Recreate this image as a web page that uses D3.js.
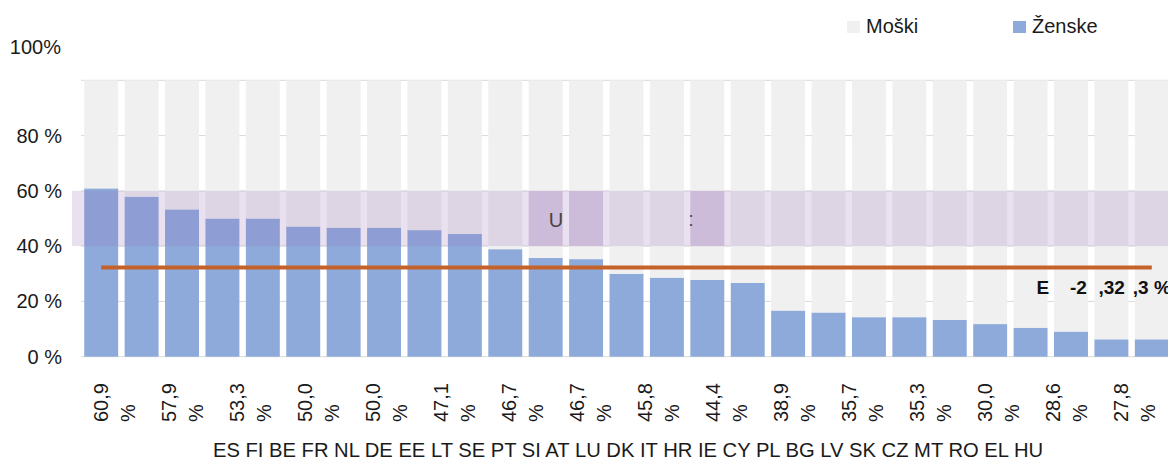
<!DOCTYPE html>
<html>
<head>
<meta charset="utf-8">
<script src="https://cdn.jsdelivr.net/npm/d3@7"></script>
<style>
  body { margin: 0; background: #fff; }
  svg { display: block; font-family: "Liberation Sans", Arial, sans-serif; }
</style>
</head>
<body>
<svg id="chart" width="1168" height="460"></svg>
<script>
// data
const countries = ["ES","FI","BE","FR","NL","DE","EE","LT","SE","PT","SI","AT","LU","DK","IT","HR","IE","CY","PL","BG","LV","SK","CZ","MT","RO","EL","HU"];
const women = [60.9, 57.9, 53.3, 50.0, 50.0, 47.1, 46.7, 46.7, 45.8, 44.4, 38.9, 35.7, 35.3, 30.0, 28.6, 27.8, 26.7, 16.7, 16.0, 14.3, 14.3, 13.3, 11.8, 10.5, 9.1, 6.3, 6.3];
const men = [39.1, 42.1, 46.7, 50.0, 50.0, 52.9, 53.3, 53.3, 54.2, 55.6, 61.1, 64.3, 64.7, 70.0, 71.4, 72.2, 73.3, 83.3, 84.0, 85.7, 85.7, 86.7, 88.2, 89.5, 90.9, 93.7, 93.7];
const valueLabels = ["60,9 %","57,9 %","53,3 %","50,0 %","50,0 %","47,1 %","46,7 %","46,7 %","45,8 %","44,4 %","38,9 %","35,7 %","35,3 %","30,0 %","28,6 %","27,8 %"];
const yTicks = [0, 20, 40, 60, 80];
const band = [40, 60];
const highlighted = ["AT","LU","HR"];
const euAverage = 32.3;
const euPieces = [["MT","E"],["RO","-2"],["EL",",32"],["HU",",3 %"]];
const seriesNames = ["Moški","Ženske"];

const svg = d3.select("#chart");
const colWomen = "#8eaadb", colMen = "#f0f0f0";

const x = d3.scaleBand().domain(countries).range([81, 1172]).paddingInner(0.16).paddingOuter(0.08);
const y = d3.scaleLinear().domain([0, 100]).range([356.7, 80.3]);

// gridlines
svg.append("g").selectAll("line")
  .data(yTicks.concat([100]))
  .join("line")
  .attr("x1", 81).attr("x2", 1168)
  .attr("y1", d => y(d)).attr("y2", d => y(d))
  .attr("stroke", "#d9d9d9").attr("stroke-width", 1);

// y tick labels
svg.append("g").selectAll("text")
  .data(yTicks)
  .join("text")
  .attr("x", 62).attr("y", d => y(d) + 7)
  .attr("text-anchor", "end")
  .attr("font-size", 20).attr("fill", "#1a1a1a")
  .text(d => d + " %");
svg.append("text")
  .attr("x", 61).attr("y", 54)
  .attr("text-anchor", "end")
  .attr("font-size", 20).attr("fill", "#1a1a1a")
  .text("100%");

// stacked bars
const rows = countries.map((c, i) => ({ c, women: women[i], men: men[i] }));
const stack = d3.stack().keys(["women", "men"])(rows);
svg.append("g").selectAll("g")
  .data(stack)
  .join("g")
  .attr("fill", s => s.key === "women" ? colWomen : colMen)
  .selectAll("rect")
  .data(s => s)
  .join("rect")
  .attr("x", d => x(d.data.c))
  .attr("width", x.bandwidth())
  .attr("y", d => y(d[1]))
  .attr("height", d => y(d[0]) - y(d[1]));

// translucent 40-60 % band
svg.append("rect")
  .attr("x", 72).attr("width", 1168 - 72)
  .attr("y", y(band[1])).attr("height", y(band[0]) - y(band[1]))
  .attr("fill", "rgba(145,105,180,0.2)");

svg.append("text")
  .attr("x", x("HR") - 2).attr("y", 226)
  .attr("font-size", 20).attr("fill", "#444")
  .text(":");

svg.append("g").selectAll("rect")
  .data(highlighted)
  .join("rect")
  .attr("x", d => x(d)).attr("width", x.bandwidth())
  .attr("y", y(band[1])).attr("height", y(band[0]) - y(band[1]))
  .attr("fill", "rgba(145,105,180,0.23)");

svg.append("text")
  .attr("x", x("AT") + 20).attr("y", 227)
  .attr("font-size", 20).attr("fill", "#444")
  .text("U");

// EU average line
svg.append("line")
  .attr("x1", x(countries[0]) + x.bandwidth() / 2)
  .attr("x2", x(countries[countries.length - 1]) + x.bandwidth() / 2)
  .attr("y1", y(euAverage)).attr("y2", y(euAverage))
  .attr("stroke", "#c5622a").attr("stroke-width", 4);

const pieceOffset = { MT: 23, RO: 16, EL: 4, HU: -2 };
svg.append("g").selectAll("text")
  .data(euPieces)
  .join("text")
  .attr("x", d => x(d[0]) + pieceOffset[d[0]])
  .attr("y", 294)
  .attr("font-size", 19).attr("font-weight", "bold").attr("fill", "#111")
  .text(d => d[1]);

// rotated value labels under the axis
const lx = d3.scalePoint().domain(d3.range(valueLabels.length)).range([93, 1113]);
const vl = svg.append("g").selectAll("g")
  .data(valueLabels)
  .join("g")
  .attr("transform", (d, i) => `translate(${lx(i)},422) rotate(-90)`);
vl.selectAll("text")
  .data(d => d.split(" "))
  .join("text")
  .attr("x", 0)
  .attr("y", (d, j) => 14.5 + j * 27)
  .attr("font-size", 20).attr("fill", "#1a1a1a")
  .text(d => d);

// country codes as one line
svg.append("text")
  .attr("x", 628).attr("y", 457)
  .attr("text-anchor", "middle")
  .attr("font-size", 20.2).attr("fill", "#1a1a1a")
  .text(countries.join(" "));

// legend
const legend = svg.append("g").selectAll("g")
  .data(seriesNames)
  .join("g")
  .attr("transform", (d, i) => `translate(${847 + i * 166},21)`);
legend.append("rect")
  .attr("width", 13).attr("height", 12)
  .attr("fill", (d, i) => i === 0 ? colMen : colWomen);
legend.append("text")
  .attr("x", 19).attr("y", 12)
  .attr("font-size", 20).attr("fill", "#1a1a1a")
  .text(d => d);
</script>
</body>
</html>
